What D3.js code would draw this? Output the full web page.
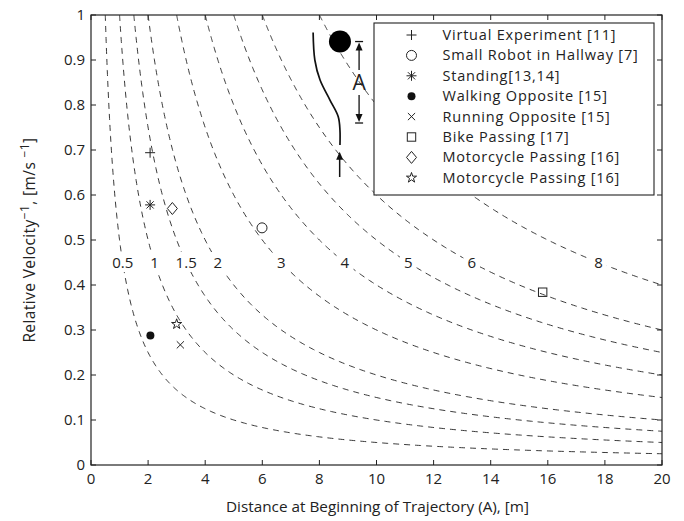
<!DOCTYPE html>
<html>
<head>
<meta charset="utf-8">
<script src="https://cdn.jsdelivr.net/npm/d3@7"></script>
<style>
  body { margin: 0; background: #fff; }
  svg text { font-family: 'Open Sans', 'Noto Sans', sans-serif; fill: #222; }
</style>
</head>
<body>
<svg id="chart" width="684" height="521"></svg>
<script>
// + -- data ----------------------------------------------------------------- +
const xTicks = [0, 2, 4, 6, 8, 10, 12, 14, 16, 18, 20]
const yTicks = [0, 0.1, 0.2, 0.3, 0.4, 0.5, 0.6, 0.7, 0.8, 0.9, 1]
// constant-time curves: distance * (1/velocity) = t
const curveTimes = [0.5, 1, 1.5, 2, 3, 4, 5, 6, 8]
const curveLabelY = 0.45

const seriesNames = ['Virtual Experiment [11]', 'Small Robot in Hallway [7]', 'Standing[13,14]',
  'Walking Opposite [15]', 'Running Opposite [15]', 'Bike Passing [17]',
  'Motorcycle Passing [16]', 'Motorcycle Passing [16]']
const seriesSymbols = ['plus', 'circle', 'asterisk', 'dot', 'cross', 'square', 'diamond', 'star']
const seriesX = [2.07, 5.99, 2.07, 2.08, 3.13, 15.82, 2.85, 3.0]
const seriesY = [0.694, 0.527, 0.578, 0.288, 0.267, 0.384, 0.570, 0.313]

// inset sketch (data units)
const insetObstacle = [8.72, 0.941]
const insetPathX = [7.78, 7.84, 8.02, 8.37, 8.66, 8.72, 8.72]
const insetPathY = [0.961, 0.9, 0.856, 0.811, 0.774, 0.744, 0.711]
const insetArrow = [8.71, 0.64, 0.696]
const insetDim = {x: 9.39, top: 0.941, bottom: 0.760, upperEnd: 0.878, lowerStart: 0.822, labelY: 0.852}

// + -- layout --------------------------------------------------------------- +
const L = 91, R = 662, T = 15, B = 465
const svg = d3.select('#chart')
const x = d3.scaleLinear().domain([0, 20]).range([L, R])
const y = d3.scaleLinear().domain([0, 1]).range([B, T])

svg.append('defs').append('clipPath').attr('id', 'plotclip')
  .append('rect').attr('x', L).attr('y', T).attr('width', R - L).attr('height', B - T)

// + -- curves --------------------------------------------------------------- +
const line = d3.line().x(d => x(d[0])).y(d => y(d[1]))
const curves = svg.append('g').attr('clip-path', 'url(#plotclip)')
curveTimes.forEach(t => {
  let pts = []
  let x0 = t
  for (let i = 0; i <= 400; i++) {
    let xv = x0 + (20 - x0) * Math.pow(i / 400, 2)
    pts.push([xv, t / xv])
  }
  curves.append('path')
    .attr('d', line(pts))
    .attr('fill', 'none')
    .attr('stroke', '#222')
    .attr('stroke-width', 0.9)
    .attr('stroke-dasharray', '6,5')
})

// curve labels with white gap behind
curveTimes.forEach(t => {
  let cx = x(t / curveLabelY), cy = y(curveLabelY)
  let lab = svg.append('text')
    .attr('x', cx).attr('y', cy + 5.5)
    .attr('text-anchor', 'middle')
    .style('font-size', '15px')
    .text(t)
  let bb = lab.node().getBBox()
  svg.insert('rect', 'text')
    .attr('x', bb.x - 4).attr('y', bb.y)
    .attr('width', bb.width + 8).attr('height', bb.height)
    .attr('fill', '#fff')
})

// + -- axes box ------------------------------------------------------------- +
const axes = svg.append('g')
axes.append('rect').attr('x', L).attr('y', T).attr('width', R - L).attr('height', B - T)
  .attr('fill', 'none').attr('stroke', '#222').attr('stroke-width', 1.2)

xTicks.forEach(v => {
  axes.append('line').attr('x1', x(v)).attr('x2', x(v)).attr('y1', B).attr('y2', B - 5).attr('stroke', '#222')
  axes.append('line').attr('x1', x(v)).attr('x2', x(v)).attr('y1', T).attr('y2', T + 5).attr('stroke', '#222')
  axes.append('text').attr('x', x(v)).attr('y', B + 19).attr('text-anchor', 'middle')
    .style('font-size', '15px').text(v)
})
yTicks.forEach(v => {
  axes.append('line').attr('x1', L).attr('x2', L + 5).attr('y1', y(v)).attr('y2', y(v)).attr('stroke', '#222')
  axes.append('line').attr('x1', R).attr('x2', R - 5).attr('y1', y(v)).attr('y2', y(v)).attr('stroke', '#222')
  axes.append('text').attr('x', L - 6).attr('y', y(v) + 5).attr('text-anchor', 'end')
    .style('font-size', '15px').text(v)
})

svg.append('text').attr('x', (L + R) / 2 + 1).attr('y', 512).attr('text-anchor', 'middle')
  .style('font-size', '15.3px').text('Distance at Beginning of Trajectory (A), [m]')

let yt = svg.append('text').attr('transform', 'translate(35,' + ((T + B) / 2) + ') rotate(-90)')
  .attr('text-anchor', 'middle').style('font-size', '15.5px').style('letter-spacing', '0.4px')
yt.append('tspan').text('Relative Velocity')
yt.append('tspan').attr('dy', -6).style('font-size', '12px').text('\u22121')
yt.append('tspan').attr('dy', 6).text(', [m/s ')
yt.append('tspan').attr('dy', -6).style('font-size', '12px').text('\u22121')
yt.append('tspan').attr('dy', 6).text(']')

// + -- markers -------------------------------------------------------------- +
function drawMarker (g, type, cx, cy) {
  let k = g.append('g').attr('transform', 'translate(' + cx + ',' + cy + ')')
    .attr('stroke', '#222').attr('stroke-width', 1).attr('fill', 'none')
  if (type === 'plus') {
    k.append('path').attr('d', 'M-5,0H5M0,-5V5')
  } else if (type === 'circle') {
    k.append('circle').attr('r', 5)
  } else if (type === 'asterisk') {
    k.append('path').attr('d', 'M-5,0H5M0,-5V5M-3.6,-3.6L3.6,3.6M-3.6,3.6L3.6,-3.6')
  } else if (type === 'dot') {
    k.append('circle').attr('r', 4).attr('fill', '#111').attr('stroke', 'none')
  } else if (type === 'cross') {
    k.append('path').attr('d', 'M-3.6,-3.6L3.6,3.6M-3.6,3.6L3.6,-3.6')
  } else if (type === 'square') {
    k.append('rect').attr('x', -4.2).attr('y', -4.2).attr('width', 8.4).attr('height', 8.4)
  } else if (type === 'diamond') {
    k.append('path').attr('d', 'M0,-6L5,0L0,6L-5,0Z')
  } else if (type === 'star') {
    k.append('path').attr('d', d3.symbol().type(d3.symbolStar).size(32)())
  }
}

const marks = svg.append('g')
seriesX.forEach((v, i) => drawMarker(marks, seriesSymbols[i], x(v), y(seriesY[i])))

// + -- inset sketch --------------------------------------------------------- +
const inset = svg.append('g')
inset.append('circle').attr('cx', x(insetObstacle[0])).attr('cy', y(insetObstacle[1])).attr('r', 11).attr('fill', '#000')
inset.append('path')
  .attr('d', d3.line().curve(d3.curveCatmullRom).x((d, i) => x(d)).y((d, i) => y(insetPathY[i]))(insetPathX))
  .attr('fill', 'none').attr('stroke', '#111').attr('stroke-width', 1.7)

function arrowHead (g, px, py, dir) {
  // dir = -1 points up, +1 points down
  g.append('path').attr('d', 'M' + (px - 3.5) + ',' + (py - dir * 8) + 'L' + px + ',' + py + 'L' + (px + 3.5) + ',' + (py - dir * 8) + 'Z')
    .attr('fill', '#111')
}
inset.append('line').attr('x1', x(insetArrow[0])).attr('x2', x(insetArrow[0]))
  .attr('y1', y(insetArrow[1])).attr('y2', y(insetArrow[2]) + 4).attr('stroke', '#111').attr('stroke-width', 1.5)
arrowHead(inset, x(insetArrow[0]), y(insetArrow[2]), -1)

let dx = x(insetDim.x)
inset.append('line').attr('x1', dx - 4).attr('x2', dx + 4).attr('y1', y(insetDim.top)).attr('y2', y(insetDim.top)).attr('stroke', '#111').attr('stroke-width', 1.3)
inset.append('line').attr('x1', dx - 4).attr('x2', dx + 4).attr('y1', y(insetDim.bottom)).attr('y2', y(insetDim.bottom)).attr('stroke', '#111').attr('stroke-width', 1.3)
inset.append('line').attr('x1', dx).attr('x2', dx).attr('y1', y(insetDim.top) + 4).attr('y2', y(insetDim.upperEnd)).attr('stroke', '#111').attr('stroke-width', 1.3)
inset.append('line').attr('x1', dx).attr('x2', dx).attr('y1', y(insetDim.lowerStart)).attr('y2', y(insetDim.bottom) - 4).attr('stroke', '#111').attr('stroke-width', 1.3)
arrowHead(inset, dx, y(insetDim.top) + 1, -1)
arrowHead(inset, dx, y(insetDim.bottom) - 1, 1)
inset.append('text').attr('x', dx).attr('y', y(insetDim.labelY) + 8).attr('text-anchor', 'middle')
  .style('font-size', '21px').text('A')

// + -- legend --------------------------------------------------------------- +
const legend = svg.append('g')
legend.append('rect').attr('x', 374).attr('y', 23).attr('width', 280).attr('height', 172)
  .attr('fill', '#fff').attr('stroke', '#222').attr('stroke-width', 1.1)
seriesNames.forEach((name, i) => {
  let ly = 35 + i * 20.4
  drawMarker(legend, seriesSymbols[i], 411.5, ly)
  legend.append('text').attr('x', 442.5).attr('y', ly + 5)
    .style('font-size', '14.5px').style('letter-spacing', '0.8px').text(name)
})
</script>
</body>
</html>
